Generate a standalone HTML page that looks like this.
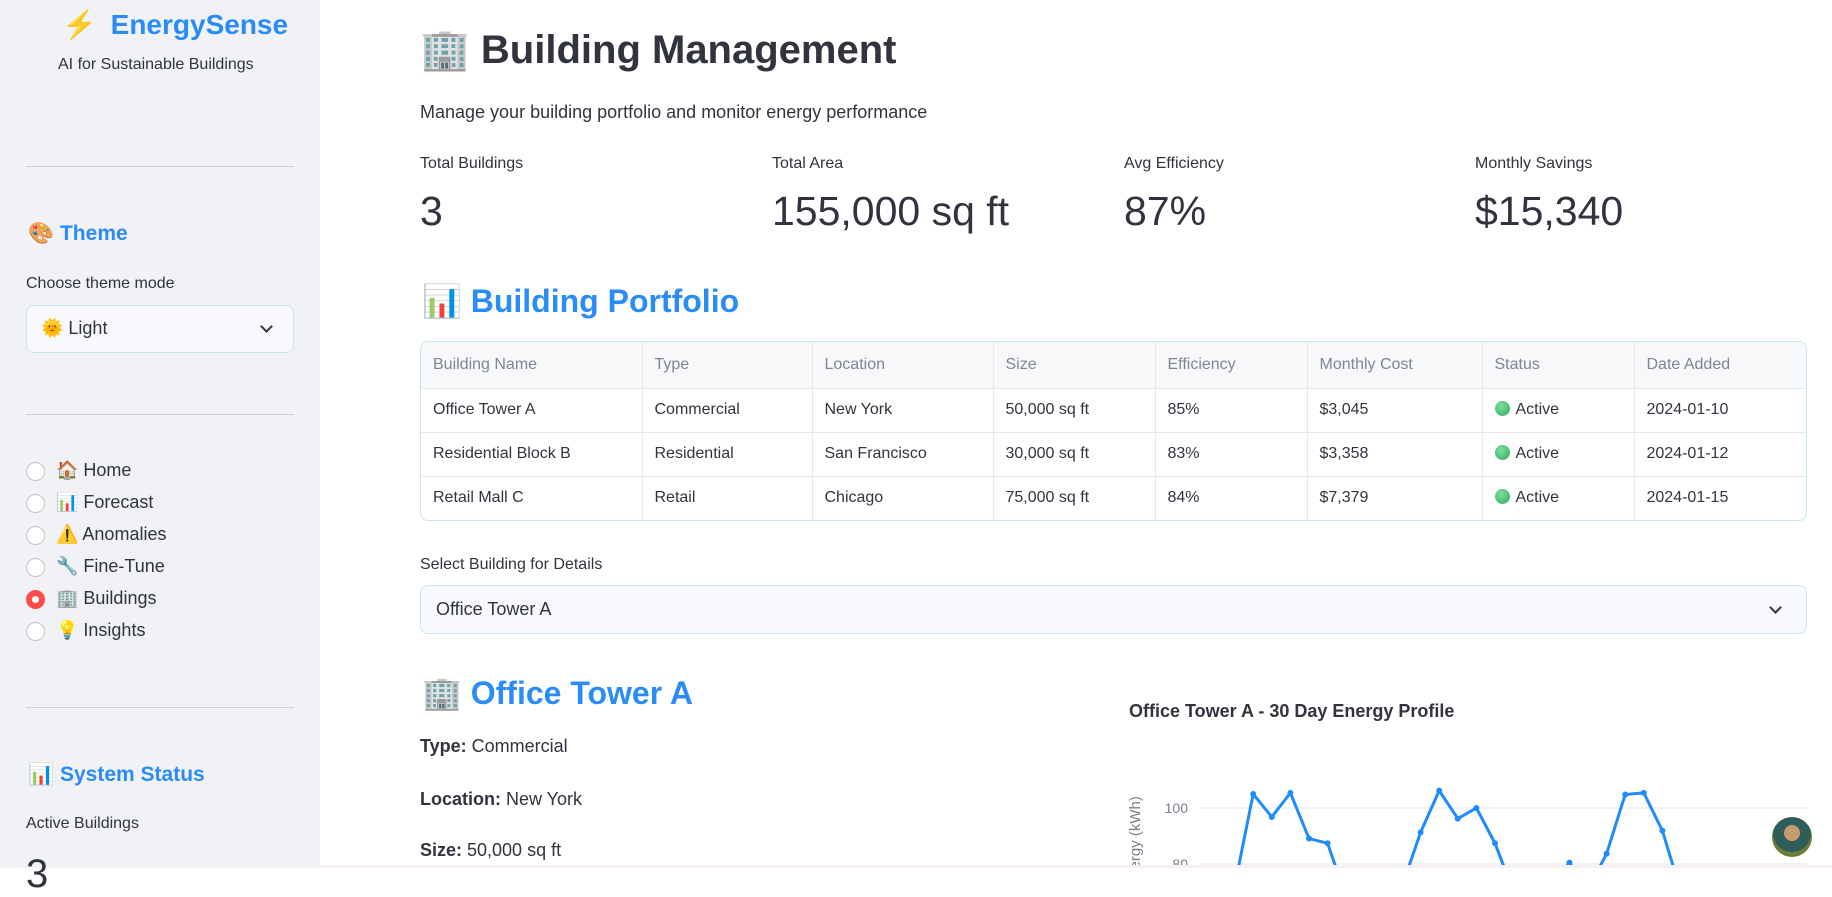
<!DOCTYPE html>
<html><head><meta charset="utf-8">
<style>
*{margin:0;padding:0;box-sizing:border-box}
body{width:1832px;height:868px;overflow:hidden;background:#fff;font-family:"Liberation Sans","Noto Sans CJK SC",sans-serif;color:#31333f;position:relative}
.a{position:absolute;white-space:nowrap}
#sb{position:absolute;left:0;top:0;width:320px;height:868px;background:#f0f2f6}
.hr{position:absolute;left:26px;width:268px;height:1px;background:#d0d2d8}
.blue{color:#2a8cf7;font-weight:bold}
.radio{position:absolute;left:26px;width:19px;height:19px;border-radius:50%;border:1px solid #bfc2c9;background:#fff}
.rl{position:absolute;left:56px;font-size:18px}
table{border-collapse:collapse;font-size:16px}
td,th{border-right:1px solid #e6e8ec;border-bottom:1px solid #e6e8ec;text-align:left;padding:0 12px;height:44px;font-weight:normal}
th{color:#808495;background:#f7f8fa;height:46px}
tr:last-child td{border-bottom:none}
td:last-child,th:last-child{border-right:none}
.dot{display:inline-block;width:15px;height:15px;border-radius:50%;background:radial-gradient(circle at 40% 35%,#7fe0a0,#2aa65a);vertical-align:-2px;margin-right:6px}
.chev{position:absolute;width:9px;height:9px;border-right:2.5px solid #31333f;border-bottom:2.5px solid #31333f;transform:rotate(45deg)}
</style></head><body>
<div id="sb">
<div class="a" style="left:62px;top:8px;font-size:28px"><span style="color:#f07030">⚡</span> <span class="blue" style="margin-left:6px">EnergySense</span></div>
<div class="a" style="left:58px;top:56px;font-size:16px">AI for Sustainable Buildings</div>
<div class="hr" style="top:166px"></div>
<div class="a" style="left:28px;top:222px;font-size:21px">🎨 <span class="blue">Theme</span></div>
<div class="a" style="left:26px;top:275px;font-size:16px">Choose theme mode</div>
<div class="a" style="left:26px;top:305px;width:268px;height:48px;background:#f8f9fc;border:1px solid #c8e6ee;border-radius:8px;font-size:18px;padding:12px 14px">🌞 Light<span class="chev" style="right:22px;top:16px"></span></div>
<div class="hr" style="top:414px"></div>
<div class="radio" style="top:462px"></div><div class="rl" style="top:460px">🏠 Home</div>
<div class="radio" style="top:494px"></div><div class="rl" style="top:492px">📊 Forecast</div>
<div class="radio" style="top:526px"></div><div class="rl" style="top:524px">⚠️ Anomalies</div>
<div class="radio" style="top:558px"></div><div class="rl" style="top:556px">🔧 Fine-Tune</div>
<div class="radio" style="top:590px;border:6px solid #ff4b4b"></div><div class="rl" style="top:588px">🏢 Buildings</div>
<div class="radio" style="top:622px"></div><div class="rl" style="top:620px">💡 Insights</div>
<div class="hr" style="top:707px"></div>
<div class="a" style="left:28px;top:763px;font-size:21px">📊 <span class="blue">System Status</span></div>
<div class="a" style="left:26px;top:815px;font-size:16px">Active Buildings</div>
<div class="a" style="left:26px;top:852px;font-size:40px">3</div>
</div>

<div class="a" style="left:420px;top:26px;font-size:40px;font-weight:bold">🏢 Building Management</div>
<div class="a" style="left:420px;top:102px;font-size:18px">Manage your building portfolio and monitor energy performance</div>

<div class="a" style="left:420px;top:155px;font-size:16px">Total Buildings</div>
<div class="a" style="left:420px;top:188px;font-size:41px">3</div>
<div class="a" style="left:772px;top:155px;font-size:16px">Total Area</div>
<div class="a" style="left:772px;top:188px;font-size:41px">155,000 sq ft</div>
<div class="a" style="left:1124px;top:155px;font-size:16px">Avg Efficiency</div>
<div class="a" style="left:1124px;top:188px;font-size:41px">87%</div>
<div class="a" style="left:1475px;top:155px;font-size:16px">Monthly Savings</div>
<div class="a" style="left:1475px;top:188px;font-size:41px">$15,340</div>

<div class="a" style="left:422px;top:282px;font-size:32px">📊 <span class="blue">Building Portfolio</span></div>

<div class="a" style="left:420px;top:341px;width:1387px;height:180px;border:1px solid #c8e6ee;border-radius:8px;overflow:hidden">
<table style="width:100%;table-layout:fixed">
<colgroup><col style="width:221px"><col style="width:170px"><col style="width:181px"><col style="width:162px"><col style="width:152px"><col style="width:175px"><col style="width:152px"><col></colgroup>
<tr><th>Building Name</th><th>Type</th><th>Location</th><th>Size</th><th>Efficiency</th><th>Monthly Cost</th><th>Status</th><th>Date Added</th></tr>
<tr><td>Office Tower A</td><td>Commercial</td><td>New York</td><td>50,000 sq ft</td><td>85%</td><td>$3,045</td><td><span class="dot"></span>Active</td><td>2024-01-10</td></tr>
<tr><td>Residential Block B</td><td>Residential</td><td>San Francisco</td><td>30,000 sq ft</td><td>83%</td><td>$3,358</td><td><span class="dot"></span>Active</td><td>2024-01-12</td></tr>
<tr><td>Retail Mall C</td><td>Retail</td><td>Chicago</td><td>75,000 sq ft</td><td>84%</td><td>$7,379</td><td><span class="dot"></span>Active</td><td>2024-01-15</td></tr>
</table></div>

<div class="a" style="left:420px;top:556px;font-size:16px">Select Building for Details</div>
<div class="a" style="left:420px;top:585px;width:1387px;height:49px;background:#f8f9fc;border:1px solid #c8e6ee;border-radius:8px;font-size:18px;padding:13px 15px">Office Tower A<span class="chev" style="right:26px;top:17px"></span></div>

<div class="a" style="left:422px;top:674px;font-size:32px">🏢 <span class="blue">Office Tower A</span></div>
<div class="a" style="left:420px;top:736px;font-size:18px"><b>Type:</b> Commercial</div>
<div class="a" style="left:420px;top:789px;font-size:18px"><b>Location:</b> New York</div>
<div class="a" style="left:420px;top:840px;font-size:18px"><b>Size:</b> 50,000 sq ft</div>

<svg class="a" style="left:0;top:0" width="1832" height="868">
<text x="1129" y="717" font-size="18" font-weight="bold" fill="#31333f" font-family="Liberation Sans">Office Tower A - 30 Day Energy Profile</text>
<g id="grid"></g><g id="line"></g>
<text transform="translate(1140,842) rotate(-90)" font-size="15" fill="#7a7f8c" text-anchor="middle" font-family="Liberation Sans">Energy (kWh)</text>
</svg>
<div class="a" style="left:1772px;top:817px;width:40px;height:40px;border-radius:50%;background:radial-gradient(circle at 50% 40%,#c89a70 0 25%,#2f5d5a 26% 60%,#6a7b3a 61%)"></div>
<div class="a" style="left:320px;top:865px;width:1512px;height:3px;background:#f8f0f0"></div>
<script>
const days=[1,2,3,4,5,6,7,8,9,10,11,12,13,14,15,16,17,18,19,20,21,22,23,24,25,26,27,28,29,30];
const energy=[70,72,105,96.8,105.4,89.1,87.4,68,66,70,72,91.3,106.2,96.2,100,87.4,70,68,72,80.5,71,83.7,104.8,105.4,91.9,70,68,71,69,72];
const yTicks=[60,80,100];
const ns='http://www.w3.org/2000/svg';
const xs=d=>1216+(d-1)*18.6;
const ys=v=>808-(v-100)*2.8;
const g=document.getElementById('grid'),l=document.getElementById('line');
yTicks.forEach(t=>{
 const ln=document.createElementNS(ns,'line');
 
 
 ln.setAttribute('x1',1200);ln.setAttribute('x2',1808);ln.setAttribute('y1',ys(t));ln.setAttribute('y2',ys(t));
 ln.setAttribute('stroke','#e2e8f3');g.appendChild(ln);
 const tx=document.createElementNS(ns,'text');
 
 
 tx.setAttribute('x',1188);tx.setAttribute('y',ys(t)+5);tx.setAttribute('text-anchor','end');
 tx.setAttribute('font-size','14');tx.setAttribute('fill','#7a7f8c');tx.setAttribute('font-family','Liberation Sans');
 tx.textContent=t;g.appendChild(tx);
});
const p=document.createElementNS(ns,'polyline');


p.setAttribute('points',days.map((d,i)=>xs(d)+','+ys(energy[i])).join(' '));
p.setAttribute('fill','none');p.setAttribute('stroke','#1f8bff');p.setAttribute('stroke-width','3');
l.appendChild(p);
days.forEach((d,i)=>{
 const c=document.createElementNS(ns,'circle');
 
 
 c.setAttribute('cx',xs(d));c.setAttribute('cy',ys(energy[i]));c.setAttribute('r',3);c.setAttribute('fill','#1f8bff');
 l.appendChild(c);
});
</script>
</body></html>
